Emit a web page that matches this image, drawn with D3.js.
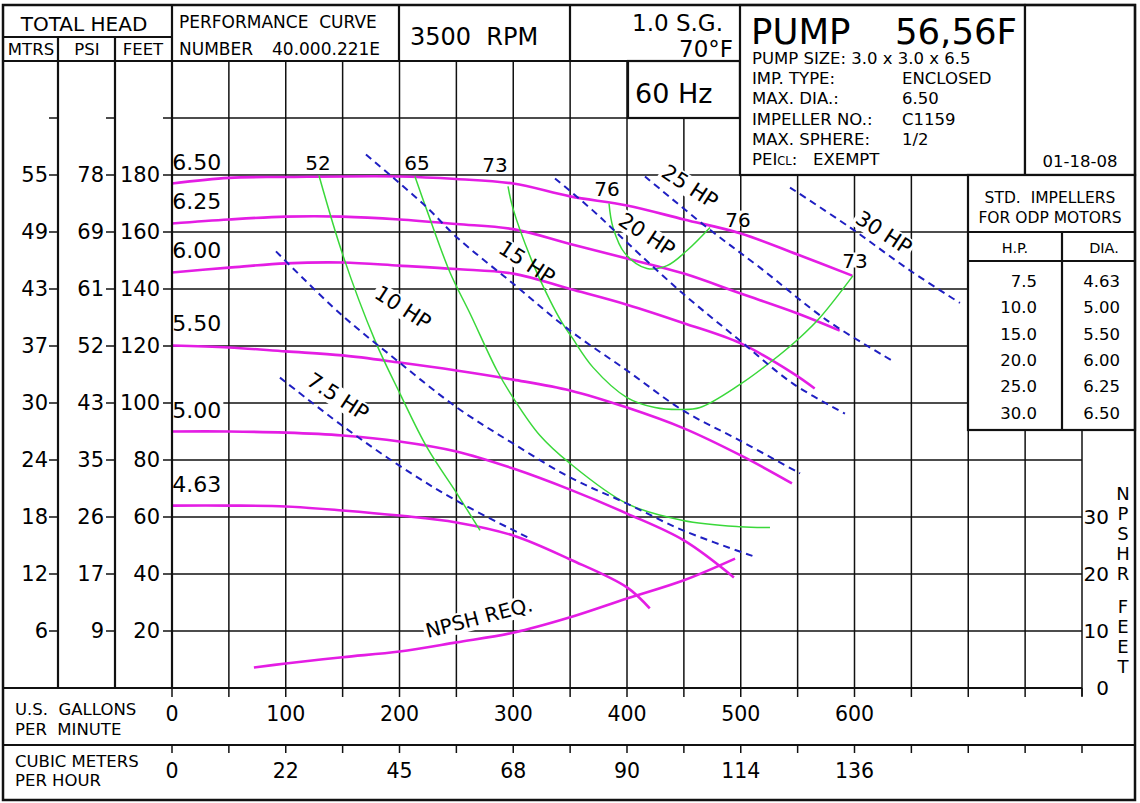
<!DOCTYPE html>
<html>
<head>
<meta charset="utf-8">
<script src="https://cdn.jsdelivr.net/npm/d3@7"></script>
<style>
  body { margin: 0; background: #fff; }
  svg text { font-family: "DejaVu Sans", Verdana, sans-serif; fill: #000; white-space: pre; }
</style>
</head>
<body>
<svg id="chart" width="1140" height="803"></svg>
<script>
// axis ticks
const gpmTicks = [0, 100, 200, 300, 400, 500, 600];
const cmhTicks = [0, 22, 45, 68, 90, 114, 136];
const feetTicks = [20, 40, 60, 80, 100, 120, 140, 160, 180];
const psiTicks = [9, 17, 26, 35, 43, 52, 61, 69, 78];
const mtrsTicks = [6, 12, 18, 24, 30, 37, 43, 49, 55];
const npshTicks = [0, 10, 20, 30];

// head-capacity curves, [gpm, feet]
const imp650 = [[0, 177.0], [50, 179.0], [100, 179.3], [200, 179.5], [250, 178.6], [300, 177.0], [350, 172.5], [400, 169.3], [450, 164.4], [500, 159.5], [550, 152.1], [598, 144.7]];
const imp625 = [[0, 163.0], [50, 164.4], [100, 165.4], [150, 165.4], [200, 164.4], [250, 162.8], [300, 161.0], [350, 155.8], [400, 150.7], [450, 145.4], [500, 138.4], [550, 131.4], [587, 125.4]];
const imp600 = [[0, 145.8], [50, 147.5], [100, 149.0], [150, 149.3], [200, 148.2], [250, 147.0], [300, 145.4], [350, 140.0], [400, 134.5], [450, 128.0], [500, 120.9], [546, 110.4], [565, 105.1]];
const imp550 = [[0, 120.2], [50, 119.5], [100, 118.1], [150, 116.7], [200, 114.2], [250, 111.4], [300, 108.2], [350, 104.4], [400, 98.4], [450, 91.1], [500, 81.6], [545, 71.8]];
const imp500 = [[0, 90.0], [50, 90.0], [100, 89.6], [150, 88.6], [200, 86.5], [250, 83.0], [300, 77.0], [350, 69.6], [400, 61.2], [450, 51.8], [494, 38.8]];
const imp463 = [[0, 64.0], [50, 64.0], [100, 63.7], [150, 62.3], [200, 60.5], [250, 58.1], [300, 53.5], [350, 45.1], [400, 35.3], [420, 27.9]];
const impNames = ["6.50", "6.25", "6.00", "5.50", "5.00", "4.63"];

// NPSH required, [gpm, npsh feet]
const npshReq = [[72, 3.6], [100, 4.3], [150, 5.4], [200, 6.4], [250, 8.0], [300, 9.7], [350, 12.4], [400, 15.7], [450, 18.9], [495, 22.7]];

// efficiency curves, [gpm, feet]
const eff52 = [[129.2, 179.8], [150.3, 151.8], [178.5, 121.9], [200.4, 103.3], [224.2, 84.4], [250.5, 68.2], [270.8, 55.3]];
const eff65 = [[213.6, 179.5], [224.2, 167.5], [244.4, 145.8], [262.0, 131.4], [285.7, 111.4], [299.8, 101.9], [323.5, 88.6], [349.9, 78.8], [400, 64.7], [449.2, 58.8], [499.3, 56.6], [525.7, 56.3]];
const eff73 = [[295.4, 176.0], [299.8, 168.2], [317.4, 148.9], [332.3, 136.0], [342.9, 128.2], [351.6, 123.0], [370.1, 112.5], [400, 101.9], [424.6, 98.4], [446.6, 97.7], [464.2, 98.4], [499.3, 106.5], [525.7, 114.2], [552.1, 123.0], [569.7, 130.0], [598.7, 144.7]];
const eff76 = [[384.2, 170.0], [387.7, 161.6], [398.2, 152.5], [417.6, 147.2], [435.2, 148.2], [452.7, 153.5], [473.0, 161.6]];
const effNames = ["52", "65", "73", "76", "76", "73"];
const effNameAt = [[128.4, 181.6], [215.4, 181.6], [284.0, 180.9], [382.4, 172.8], [497.6, 161.9], [600.4, 147.2]];

// horsepower lines, [gpm, feet]
const hp75 = [[94.9, 108.9], [149.5, 92.1], [199.6, 78.1], [249.7, 65.8], [313.0, 52.8]];
const hp10 = [[91.4, 153.2], [147.7, 131.4], [197.8, 114.9], [250.5, 98.4], [299.8, 85.8], [349.9, 73.9], [400, 64.7], [449.2, 55.3], [514.3, 45.8]];
const hp15 = [[170.5, 187.2], [194.3, 179.1], [224.2, 168.6], [250.5, 158.1], [299.8, 141.9], [349.9, 125.4], [400, 111.4], [449.2, 97.4], [499.3, 86.8], [552.1, 75.3]];
const hp20 = [[336.7, 178.8], [370.1, 167.5], [400, 156.3], [449.2, 138.4], [499.3, 121.9], [545.9, 106.8], [591.6, 96.3]];
const hp25 = [[415.8, 179.5], [470.3, 161.6], [516.9, 147.5], [575.8, 129.0], [633.0, 114.9]];
const hp30 = [[543.3, 175.6], [596.0, 161.6], [648.8, 146.5], [692.7, 135.1]];
const hpNames = ["7.5 HP", "10 HP", "15 HP", "20 HP", "25 HP", "30 HP"];
const hpNameAt = [[145.9, 102.3], [203.1, 133.5], [312.1, 149.3], [417.6, 159.1], [455.4, 176.0], [625.9, 159.8]];

// standard impellers table
const stdHp = ["7.5", "10.0", "15.0", "20.0", "25.0", "30.0"];
const stdDia = ["4.63", "5.00", "5.50", "6.00", "6.25", "6.50"];

// pump info
const infoKeys = ["IMP. TYPE:", "MAX. DIA.:", "IMPELLER NO.:", "MAX. SPHERE:"];
const infoVals = ["ENCLOSED", "6.50", "C1159", "1/2"];

const magenta = "#e41de4", green = "#3ad83a", blue = "#1f1fc2";

const svg = d3.select("#chart");
svg.append("rect").attr("width", 1140).attr("height", 803).attr("fill", "#fff");

const x = d3.scaleLinear().domain([0, 800]).range([172, 1082]);
const y = d3.scaleLinear().domain([0, 220]).range([688, 61]);
const yN = d3.scaleLinear().domain([0, 110]).range([688, 61]);

// grid
const grid = svg.append("g").attr("stroke", "#111").attr("stroke-width", 1.5);
grid.selectAll(".gv").data(d3.range(50, 800, 50)).join("line")
  .attr("x1", d => x(d)).attr("x2", d => x(d)).attr("y1", y(220)).attr("y2", y(0));
grid.selectAll(".gh").data(d3.range(20, 220, 20)).join("line")
  .attr("x1", x(0)).attr("x2", x(800)).attr("y1", d => y(d)).attr("y2", d => y(d));
grid.append("line").attr("x1", x(800)).attr("x2", x(800)).attr("y1", 175).attr("y2", y(0) + 8);

const bgL = svg.append("g");
const curveL = svg.append("g").attr("fill", "none");
const textL = svg.append("g");

// label with a white patch behind it (top/bottom trims in px)
function tag(txt, gx, gy, angle, size, anchor, dy, trimTop = 2, trimBot = 1) {
  const tr = `translate(${x(gx)},${gy}) rotate(${angle})`;
  const t = textL.append("text").attr("transform", tr)
    .attr("text-anchor", anchor).attr("dy", dy).attr("font-size", size).text(txt);
  const b = t.node().getBBox();
  bgL.append("rect").attr("transform", tr)
    .attr("x", b.x - 2).attr("y", b.y + trimTop).attr("width", b.width + 4)
    .attr("height", b.height - trimTop - trimBot)
    .attr("fill", "#fff");
}

const line = d3.line().x(d => x(d[0])).y(d => y(d[1])).curve(d3.curveCatmullRom.alpha(0.5));
const lineN = d3.line().x(d => x(d[0])).y(d => yN(d[1])).curve(d3.curveCatmullRom.alpha(0.5));

// head curves
const imps = [imp650, imp625, imp600, imp550, imp500, imp463];
curveL.selectAll(".imp").data(imps).join("path")
  .attr("d", line).attr("stroke", magenta).attr("stroke-width", 2.6);
imps.forEach((c, i) => tag(impNames[i], 0.3, y(c[0][1]) - 14, 0, 22, "start", 0, 3, 5));

// npsh
curveL.append("path").attr("d", lineN(npshReq)).attr("stroke", magenta).attr("stroke-width", 2.6);
tag("NPSH REQ.", 269.9, y(24.7), -14.5, 20, "middle", "0.35em");

// efficiency
curveL.selectAll(".eff").data([eff52, eff65, eff73, eff76]).join("path")
  .attr("d", line).attr("stroke", green).attr("stroke-width", 1.5);
effNames.forEach((n, i) => tag(n, effNameAt[i][0], y(effNameAt[i][1]), 0, 20, "middle", 0, 3, 6));

// horsepower
curveL.selectAll(".hp").data([hp75, hp10, hp15, hp20, hp25, hp30]).join("path")
  .attr("d", line).attr("stroke", blue).attr("stroke-width", 2).attr("stroke-dasharray", "7,5");
hpNames.forEach((n, i) => tag(n, hpNameAt[i][0], y(hpNameAt[i][1]), 33, 21, "middle", "0.35em"));

// boxes over the grid
const box = svg.append("g").attr("fill", "#fff").attr("stroke", "#111").attr("stroke-width", 2.2);
box.append("rect").attr("x", 628).attr("y", 61).attr("width", 112).attr("height", 57);
box.append("rect").attr("x", 740).attr("y", 5).attr("width", 285).attr("height", 170);
box.append("rect").attr("x", 1025).attr("y", 5).attr("width", 110).attr("height", 170);
box.append("rect").attr("x", 968).attr("y", 175).attr("width", 167).attr("height", 255);
box.append("line").attr("x1", 968).attr("x2", 1135).attr("y1", 232).attr("y2", 232);
box.append("line").attr("x1", 968).attr("x2", 1135).attr("y1", 261).attr("y2", 261);
box.append("line").attr("x1", 1062).attr("x2", 1062).attr("y1", 232).attr("y2", 430);

// header and frame lines
const fr = svg.append("g").attr("stroke", "#111").attr("stroke-width", 2.2);
const seg = (x1, y1, x2, y2) => fr.append("line").attr("x1", x1).attr("y1", y1).attr("x2", x2).attr("y2", y2);
seg(3, 61, 740, 61);
seg(3, 37, 172, 37);
seg(172, 5, 172, 688);
seg(58, 37, 58, 688);
seg(115, 37, 115, 688);
seg(399, 5, 399, 61);
seg(570, 5, 570, 61);
seg(3, 688, 1082, 688);
seg(3, 745, 1135, 745);
fr.append("rect").attr("x", 3).attr("y", 5).attr("width", 1132).attr("height", 795).attr("fill", "none").attr("stroke-width", 2.5);

// ticks
const tk = svg.append("g").attr("stroke", "#111").attr("stroke-width", 1.5);
[[49, 58], [106, 115], [163, 172]].forEach(([a, b]) => {
  tk.selectAll(null).data(d3.range(20, 220, 20)).join("line")
    .attr("x1", a).attr("x2", b).attr("y1", d => y(d)).attr("y2", d => y(d));
});
[[688, 697], [745, 753]].forEach(([a, b]) => {
  tk.selectAll(null).data(d3.range(0, 850, 50)).join("line")
    .attr("x1", d => x(d)).attr("x2", d => x(d)).attr("y1", a).attr("y2", b);
});

// axis labels
const lab = svg.append("g");
const col = (arr, xr) => lab.selectAll(null).data(arr).join("text")
  .attr("x", xr).attr("y", (d, i) => y(feetTicks[i])).attr("dy", "0.35em")
  .attr("text-anchor", "end").attr("font-size", 21).text(d => d);
col(mtrsTicks, 48); col(psiTicks, 104); col(feetTicks, 160);

lab.selectAll(null).data(gpmTicks).join("text")
  .attr("x", d => x(d)).attr("y", 721).attr("text-anchor", "middle").attr("font-size", 20.5).text(d => d);
lab.selectAll(null).data(cmhTicks).join("text")
  .attr("x", (d, i) => x(gpmTicks[i])).attr("y", 778).attr("text-anchor", "middle").attr("font-size", 20.5).text(d => d);
lab.selectAll(null).data(npshTicks).join("text")
  .attr("x", 1109).attr("y", d => yN(d)).attr("dy", "0.35em").attr("text-anchor", "end").attr("font-size", 20).text(d => d);

const side = ["N", "P", "S", "H", "R", "F", "E", "E", "T"];
const sideY = [500, 520, 540, 560, 580, 613, 633, 653, 673];
lab.selectAll(null).data(side).join("text")
  .attr("x", 1123).attr("y", (d, i) => sideY[i]).attr("text-anchor", "middle").attr("font-size", 18).text(d => d);

const txt = (s, tx, ty, size, anchor = "start") =>
  lab.append("text").attr("x", tx).attr("y", ty).attr("font-size", size).attr("text-anchor", anchor).text(s);

txt("U.S.  GALLONS", 15, 715, 16.5);
txt("PER  MINUTE", 15, 735, 16.5);
txt("CUBIC METERS", 15, 767, 16.5);
txt("PER HOUR", 15, 786, 16.5);

txt("TOTAL HEAD", 84, 31, 20, "middle");
txt("MTRS", 31, 55, 16.5, "middle");
txt("PSI", 87, 55, 16.5, "middle");
txt("FEET", 143, 55, 16.5, "middle");
txt("PERFORMANCE  CURVE", 179, 28, 17);
txt("NUMBER", 179, 55, 17);
txt("40.000.221E", 272, 55, 17);
txt("3500  RPM", 410, 45, 24);
txt("1.0 S.G.", 723, 31, 23, "end");
txt("70°F", 733, 57, 23, "end");
txt("60 Hz", 635, 103, 27);

txt("PUMP", 751, 44, 35.5);
txt("56,56F", 1017, 44, 35.5, "end");
txt("PUMP SIZE: 3.0 x 3.0 x 6.5", 752, 64, 16.5);
infoKeys.forEach((k, i) => {
  txt(k, 752, 84 + i * 20.3, 16.5);
  txt(infoVals[i], 902, 84 + i * 20.3, 16.5);
});
const pei = lab.append("text").attr("x", 752).attr("y", 165).attr("font-size", 16.5);
pei.append("tspan").text("PEI");
pei.append("tspan").attr("font-size", 11.5).text("CL");
pei.append("tspan").text(":   EXEMPT");
txt("01-18-08", 1080, 167, 16.5, "middle");

txt("STD.  IMPELLERS", 1050, 203, 15.5, "middle");
txt("FOR ODP MOTORS", 1050, 223, 15.5, "middle");
txt("H.P.", 1015, 253, 14.5, "middle");
txt("DIA.", 1104, 253, 14.5, "middle");
stdHp.forEach((h, i) => {
  txt(h, 1037, 287 + i * 26.3, 16.5, "end");
  txt(stdDia[i], 1120, 287 + i * 26.3, 16.5, "end");
});
</script>
</body>
</html>
